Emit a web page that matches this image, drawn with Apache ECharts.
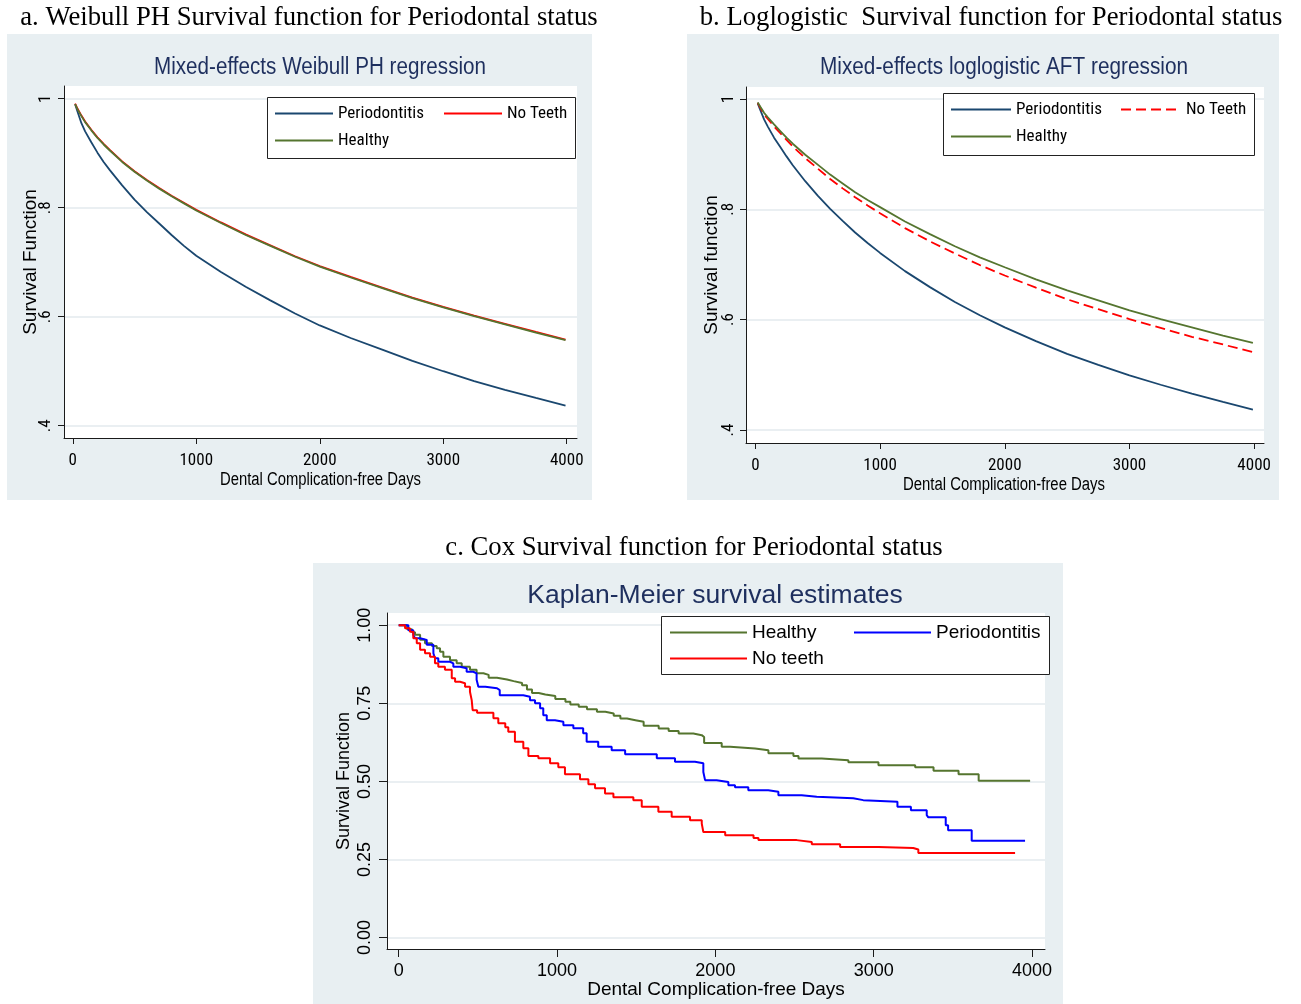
<!DOCTYPE html>
<html>
<head>
<meta charset="utf-8">
<script src="https://cdn.jsdelivr.net/npm/echarts@6/dist/echarts.min.js"></script>
<style>
html,body{margin:0;padding:0;background:#fff;width:1301px;height:1004px;overflow:hidden}
.c{position:absolute;left:0;top:0;width:1301px;height:1004px}
</style>
</head>
<body>
<div id="pa" class="c"></div>
<div id="pb" class="c"></div>
<div id="pc" class="c"></div>
<script>
// ---------------- DATA ----------------
const headingA = 'a. Weibull PH Survival function for Periodontal status';
const headingB = 'b. Loglogistic  Survival function for Periodontal status';
const headingC = 'c. Cox Survival function for Periodontal status';
const titleA = 'Mixed-effects Weibull PH regression';
const titleB = 'Mixed-effects loglogistic AFT regression';
const titleC = 'Kaplan-Meier survival estimates';
const xName = 'Dental Complication-free Days';

const xTicks = [0, 1000, 2000, 3000, 4000];
const xTickLabels = ['0', '1000', '2000', '3000', '4000'];
const abYTicks = [0.4, 0.6, 0.8, 1];
const abYTickLabels = ['.4', '.6', '.8', '1'];
const cYTicks = [0, 0.25, 0.5, 0.75, 1];
const cYTickLabels = ['0.00', '0.25', '0.50', '0.75', '1.00'];

// Panel a: Weibull PH predicted survival
const aDays = [19, 40, 70, 100, 150, 200, 250, 300, 400, 500, 600, 700, 800, 900, 1000, 1200, 1400, 1600, 1800, 2000, 2250, 2500, 2750, 3000, 3250, 3500, 3750, 3990];
const aPerio = [0.990, 0.975, 0.955, 0.940, 0.920, 0.901, 0.884, 0.869, 0.841, 0.815, 0.792, 0.771, 0.750, 0.730, 0.712, 0.682, 0.655, 0.630, 0.606, 0.584, 0.561, 0.540, 0.519, 0.500, 0.482, 0.466, 0.451, 0.437];
const aHealthy = [0.990, 0.980, 0.968, 0.957, 0.942, 0.928, 0.916, 0.905, 0.884, 0.866, 0.850, 0.835, 0.821, 0.808, 0.795, 0.772, 0.750, 0.730, 0.710, 0.692, 0.672, 0.653, 0.634, 0.617, 0.601, 0.586, 0.571, 0.557];
const aNoTeeth = [0.991, 0.981, 0.969, 0.958, 0.943, 0.929, 0.917, 0.906, 0.885, 0.867, 0.851, 0.836, 0.822, 0.809, 0.796, 0.773, 0.751, 0.731, 0.711, 0.693, 0.673, 0.654, 0.635, 0.618, 0.602, 0.587, 0.572, 0.558];

// Panel b: loglogistic AFT predicted survival
const bDays = [19, 40, 70, 100, 150, 200, 250, 300, 400, 500, 600, 700, 800, 900, 1000, 1200, 1400, 1600, 1800, 2000, 2250, 2500, 2750, 3000, 3250, 3500, 3750, 3990];
const bPerio = [0.992, 0.980, 0.963, 0.950, 0.930, 0.913, 0.896, 0.880, 0.851, 0.825, 0.801, 0.779, 0.758, 0.739, 0.721, 0.688, 0.659, 0.632, 0.608, 0.586, 0.561, 0.538, 0.518, 0.499, 0.482, 0.466, 0.451, 0.437];
const bHealthy = [0.994, 0.986, 0.975, 0.967, 0.954, 0.942, 0.930, 0.919, 0.899, 0.881, 0.863, 0.847, 0.831, 0.817, 0.804, 0.778, 0.755, 0.733, 0.713, 0.695, 0.673, 0.653, 0.635, 0.617, 0.601, 0.586, 0.571, 0.558];
const bNoTeeth = [0.993, 0.984, 0.972, 0.964, 0.950, 0.938, 0.926, 0.914, 0.893, 0.874, 0.855, 0.838, 0.822, 0.807, 0.793, 0.766, 0.742, 0.720, 0.699, 0.680, 0.658, 0.637, 0.619, 0.601, 0.585, 0.569, 0.555, 0.541];

// Panel c: Kaplan-Meier estimates (time of drop, survival after drop)
const kmHealthyT = [0, 53, 84, 103, 135, 166, 210, 240, 261, 282, 324, 366, 398, 450, 492, 535, 568, 621, 684, 726, 779, 810, 842, 884, 926, 989, 1053, 1084, 1137, 1189, 1252, 1305, 1358, 1400, 1442, 1495, 1547, 1642, 1705, 1768, 1861, 1914, 1929, 2040, 2093, 2251, 2335, 2493, 2525, 2672, 2840, 3030, 3262, 3378, 3536, 3663, 3988];
const kmHealthyS = [1.0, 0.987, 0.977, 0.969, 0.953, 0.942, 0.933, 0.926, 0.915, 0.899, 0.888, 0.878, 0.867, 0.857, 0.846, 0.841, 0.832, 0.826, 0.821, 0.815, 0.808, 0.794, 0.783, 0.778, 0.773, 0.764, 0.755, 0.746, 0.739, 0.731, 0.723, 0.717, 0.710, 0.701, 0.696, 0.691, 0.678, 0.669, 0.661, 0.653, 0.648, 0.642, 0.623, 0.611, 0.605, 0.600, 0.590, 0.581, 0.573, 0.568, 0.561, 0.552, 0.545, 0.534, 0.523, 0.502, 0.502];
const kmPerioT = [0, 61, 92, 103, 135, 177, 219, 229, 250, 324, 345, 387, 429, 471, 492, 503, 547, 621, 638, 787, 829, 861, 893, 913, 935, 987, 1040, 1103, 1165, 1187, 1260, 1345, 1430, 1630, 1745, 1871, 1924, 1935, 2008, 2082, 2124, 2208, 2334, 2398, 2545, 2640, 2871, 2934, 3150, 3235, 3335, 3345, 3455, 3470, 3619, 3956];
const kmPerioS = [1.0, 0.984, 0.969, 0.958, 0.953, 0.937, 0.910, 0.894, 0.883, 0.878, 0.867, 0.862, 0.851, 0.846, 0.825, 0.803, 0.798, 0.792, 0.776, 0.771, 0.760, 0.750, 0.734, 0.712, 0.696, 0.691, 0.680, 0.670, 0.654, 0.627, 0.611, 0.600, 0.587, 0.574, 0.563, 0.558, 0.530, 0.504, 0.498, 0.488, 0.481, 0.472, 0.467, 0.456, 0.451, 0.446, 0.440, 0.435, 0.419, 0.408, 0.392, 0.385, 0.360, 0.344, 0.310, 0.310];
const kmNoTeethT = [0, 40, 71, 92, 114, 135, 166, 198, 229, 250, 292, 335, 356, 387, 419, 450, 461, 467, 495, 598, 629, 673, 692, 734, 787, 819, 882, 956, 1008, 1050, 1145, 1198, 1240, 1303, 1356, 1482, 1535, 1640, 1724, 1840, 1914, 1924, 2062, 2241, 2272, 2514, 2609, 2788, 3030, 3250, 3282, 3893];
const kmNoTeethS = [1.0, 0.990, 0.979, 0.958, 0.942, 0.921, 0.910, 0.899, 0.878, 0.867, 0.857, 0.830, 0.819, 0.814, 0.803, 0.787, 0.760, 0.728, 0.720, 0.702, 0.686, 0.673, 0.659, 0.627, 0.606, 0.581, 0.574, 0.558, 0.545, 0.523, 0.507, 0.491, 0.478, 0.461, 0.449, 0.440, 0.419, 0.403, 0.387, 0.376, 0.365, 0.338, 0.328, 0.319, 0.312, 0.306, 0.299, 0.290, 0.287, 0.282, 0.271, 0.271];

// ---------------- FONTS ----------------
const measureCtx = document.createElement('canvas').getContext('2d');
function fontAvailable(fam) {
  const s = 'Periodontitis 1000 mmmwwwiiilll';
  measureCtx.font = '100px monospace';
  const w1 = measureCtx.measureText(s).width;
  measureCtx.font = "100px '" + fam + "', monospace";
  const w2 = measureCtx.measureText(s).width;
  return Math.abs(w1 - w2) > 0.5;
}
const narrowCandidates = ['Liberation Sans Narrow', 'Arial Narrow', 'Nimbus Sans Narrow', 'Noto Sans Condensed', 'Roboto Condensed', 'Open Sans Condensed', 'DejaVu Sans Condensed'];
const narrowName = narrowCandidates.find(fontAvailable) || 'Liberation Sans';
const NARROW = "'" + narrowName + "', 'Liberation Sans', sans-serif";
const SANS = "'Liberation Sans', Arial, sans-serif";
const SERIF = "'Liberation Serif', 'Times New Roman', serif";
function textWidth(text, font) { measureCtx.font = font; return measureCtx.measureText(text).width; }
function fitSize(text, targetW, fam) {
  return Math.round(1000 * targetW / textWidth(text, '100px ' + (fam || NARROW))) / 10;
}
// narrow text: compromise between reference width and reference glyph height
const nTick = fitSize('1000', 31.4) * 1.07;
const nLegend = fitSize('Periodontitis', 81.3) * 1.06;

// ---------------- STYLE ----------------
const BG = '#e8eff2';
const GRIDLINE = '#e3eaee';
const AXIS = '#1a1a1a';
const TITLE = '#1e2f5e';
const NAVY = '#1a476f';
const GREEN = '#55752f';
const RED = '#ff0000';
const BLUE = '#0000ff';

function zip(xs, ys) { return xs.map((x, i) => [x, ys[i]]); }
function labelFor(ticks, labels) {
  return function (v) {
    const i = ticks.findIndex(t => Math.abs(t - v) < 1e-6);
    return i >= 0 ? labels[i] : '';
  };
}
function xAxisCfg(min, max, font, fontSize, margin, tickLen, name, nameGap, nameSize) {
  return {
    type: 'value', min: min, max: max,
    name: name, nameLocation: 'middle', nameGap: nameGap, nameMoveOverlap: false,
    nameTextStyle: { fontFamily: SANS, fontSize: nameSize, color: '#000' },
    axisLine: { show: true, onZero: false, lineStyle: { color: AXIS, width: 1 } },
    axisTick: { show: true, length: tickLen, customValues: xTicks, lineStyle: { color: AXIS, width: 1 } },
    axisLabel: { customValues: xTicks, formatter: labelFor(xTicks, xTickLabels), margin: margin,
      fontFamily: font, fontSize: fontSize, color: '#000' },
    splitLine: { show: false }
  };
}
function yAxisCfg(min, max, ticks, labels, name, font, fontSize, margin, tickLen, nameGap, nameSize) {
  return {
    type: 'value', min: min, max: max,
    name: name, nameLocation: 'middle', nameGap: nameGap, nameMoveOverlap: false,
    nameTextStyle: { fontFamily: SANS, fontSize: nameSize, color: '#000' },
    axisLine: { show: true, onZero: false, lineStyle: { color: AXIS, width: 1 } },
    axisTick: { show: true, length: tickLen, customValues: ticks, lineStyle: { color: AXIS, width: 1 } },
    axisLabel: { customValues: ticks, formatter: labelFor(ticks, labels), rotate: 90, margin: margin,
      fontFamily: font, fontSize: fontSize, color: '#000' },
    splitLine: { show: true, lineStyle: { color: GRIDLINE, width: 1.5 } }
  };
}
function legendItem(name, left, cy, itemWidth, font, fontSize) {
  return { data: [name], left: left, top: Math.round(cy - fontSize / 2), padding: 0, itemGap: 0,
    itemWidth: itemWidth, itemHeight: 12, selectedMode: false,
    itemStyle: { opacity: 0, borderWidth: 0 },
    textStyle: { fontFamily: font, fontSize: fontSize, color: '#000' } };
}
function lineSeries(name, data, color, width, extra) {
  return Object.assign({
    name: name, type: 'line', data: data, showSymbol: false, symbol: 'none',
    lineStyle: { color: color, width: width }, itemStyle: { color: color },
    emphasis: { disabled: true }, animation: false
  }, extra || {});
}
// text in Arial-like face, horizontally condensed to the reference width (Stata narrow font)
function condensedText(text, cx, cy, size, targetW, color) {
  const font = size + 'px ' + SANS;
  const s = targetW / textWidth(text, font);
  return { type: 'text', silent: true, x: cx, y: cy, scaleX: s, scaleY: 1,
    style: { text: text, font: font, fill: color, align: 'center', verticalAlign: 'middle' } };
}
function panelGraphics(box, heading, hx, hy, legBox, extra) {
  return [
    { type: 'rect', silent: true, z: -10, shape: box, style: { fill: BG } },
    { type: 'text', silent: true, x: hx, y: hy, style: { text: heading, font: '26.7px ' + SERIF, fill: '#000', align: 'center', verticalAlign: 'middle' } },
    { type: 'rect', silent: true, z: 3, shape: legBox, style: { fill: '#fff', stroke: '#222', lineWidth: 1 } }
  ].concat(extra);
}

// ---------------- PANEL A ----------------
const chartA = echarts.init(document.getElementById('pa'));
chartA.setOption({
  backgroundColor: 'transparent', animation: false,
  graphic: panelGraphics({ x: 7, y: 34, width: 585, height: 466 }, headingA, 309, 18,
    { x: 267.5, y: 97.5, width: 308, height: 61 }, [
      condensedText(titleA, 320, 68, 23, 332, TITLE),
      condensedText(xName, 320.5, 480, 18, 201, '#000')
    ]),
  grid: { left: 64, top: 86, width: 513, height: 352, show: true, backgroundColor: '#fff', borderWidth: 0 },
  xAxis: xAxisCfg(-71, 4083, NARROW, nTick, 461 - 438 - nTick / 2, 6, '', 30, 18),
  yAxis: yAxisCfg(0.3775, 1.0233, abYTicks, abYTickLabels, 'Survival Function', NARROW, nTick, 64 - 46 - nTick / 2, 6, 24, 19),
  legend: [
    legendItem('Periodontitis', 274, 114, 58, NARROW, nLegend),
    legendItem('No Teeth', 443, 114, 58, NARROW, nLegend),
    legendItem('Healthy', 274, 141, 58, NARROW, nLegend)
  ],
  series: [
    lineSeries('Periodontitis', zip(aDays, aPerio), NAVY, 1.8),
    lineSeries('No Teeth', zip(aDays, aNoTeeth), RED, 1.8),
    lineSeries('Healthy', zip(aDays, aHealthy), GREEN, 1.8)
  ]
});

// ---------------- PANEL B ----------------
const chartB = echarts.init(document.getElementById('pb'));
chartB.setOption({
  backgroundColor: 'transparent', animation: false,
  graphic: panelGraphics({ x: 687, y: 34, width: 592, height: 466 }, headingB, 991, 18,
    { x: 943.5, y: 93.5, width: 311, height: 62 }, [
      condensedText(titleB, 1004, 68, 23, 368, TITLE),
      condensedText(xName, 1004, 485, 18, 202, '#000')
    ]),
  grid: { left: 746, top: 87, width: 518, height: 356, show: true, backgroundColor: '#fff', borderWidth: 0 },
  xAxis: xAxisCfg(-75, 4079, NARROW, nTick, 466 - 443 - nTick / 2, 6, '', 30, 18),
  yAxis: yAxisCfg(0.3764, 1.0218, abYTicks, abYTickLabels, 'Survival function', NARROW, nTick, 746 - 729 - nTick / 2, 6, 25, 19),
  legend: [
    legendItem('Periodontitis', 950, 110, 60, NARROW, nLegend),
    legendItem('No Teeth', 1120, 110, 60, NARROW, nLegend),
    legendItem('Healthy', 950, 137, 60, NARROW, nLegend)
  ],
  series: [
    lineSeries('Periodontitis', zip(bDays, bPerio), NAVY, 1.8),
    lineSeries('No Teeth', zip(bDays, bNoTeeth), RED, 1.8, { lineStyle: { color: RED, width: 1.8, type: [10, 5] } }),
    lineSeries('Healthy', zip(bDays, bHealthy), GREEN, 1.8)
  ]
});

// ---------------- PANEL C ----------------
const chartC = echarts.init(document.getElementById('pc'));
chartC.setOption({
  backgroundColor: 'transparent', animation: false,
  graphic: panelGraphics({ x: 313, y: 563, width: 750, height: 441 }, headingC, 694, 548,
    { x: 661.5, y: 616.5, width: 388, height: 58 }, [
      { type: 'text', silent: true, x: 715, y: 596, style: { text: titleC, font: '26.5px ' + SANS, fill: TITLE, align: 'center', verticalAlign: 'middle' } }
    ]),
  grid: { left: 387, top: 613, width: 658, height: 336, show: true, backgroundColor: '#fff', borderWidth: 0 },
  xAxis: xAxisCfg(-74, 4082, SANS, 18, 13, 8, xName, 31, 19),
  yAxis: yAxisCfg(-0.0365, 1.039, cYTicks, cYTickLabels, 'Survival Function', SANS, 18, 13, 8, 34, 18),
  legend: [
    legendItem('Healthy', 669, 632, 77, SANS, 19),
    legendItem('Periodontitis', 853, 632, 77, SANS, 19),
    legendItem('No teeth', 669, 658, 77, SANS, 19)
  ],
  series: [
    lineSeries('Healthy', zip(kmHealthyT, kmHealthyS), GREEN, 2, { step: 'end' }),
    lineSeries('Periodontitis', zip(kmPerioT, kmPerioS), BLUE, 2, { step: 'end' }),
    lineSeries('No teeth', zip(kmNoTeethT, kmNoTeethS), RED, 2, { step: 'end' })
  ]
});
</script>
</body>
</html>
